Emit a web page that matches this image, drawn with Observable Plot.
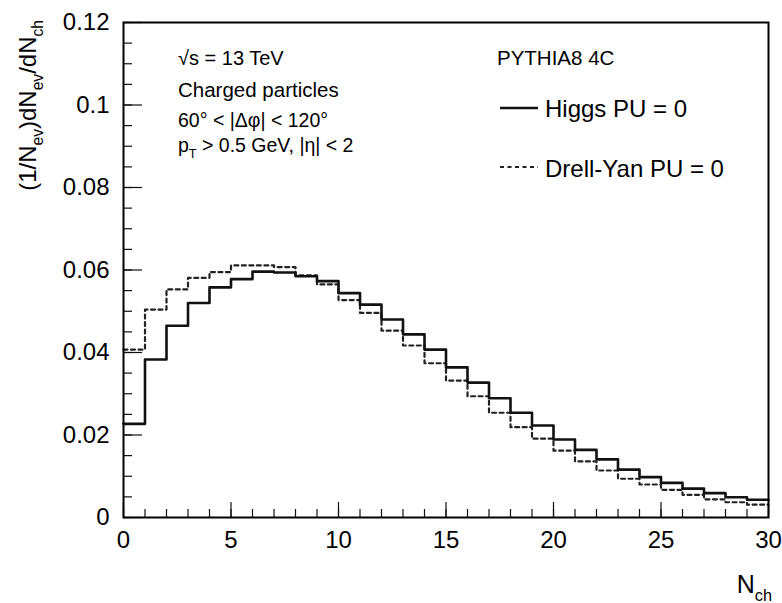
<!DOCTYPE html>
<html><head><meta charset="utf-8">
<script src="https://cdn.jsdelivr.net/npm/d3@7"></script>
<script src="https://cdn.jsdelivr.net/npm/@observablehq/plot@0.6"></script>
<style>
body{margin:0;background:#fff}
#chart{position:relative;width:782px;height:603px}
svg text{font-family:"Liberation Sans",Arial,Helvetica,sans-serif}
</style>
</head><body><div id="chart"></div>
<script>
// bin lower edges of N_ch
const nchBins = [0,1,2,3,4,5,6,7,8,9,10,11,12,13,14,15,16,17,18,19,20,21,22,23,24,25,26,27,28,29];
const nchMax = 30;
const higgs = [0.0227,0.0383,0.0465,0.0520,0.0558,0.0578,0.0596,0.0594,0.0585,0.0573,
               0.0544,0.0516,0.0480,0.0444,0.0407,0.0364,0.0327,0.0289,0.0254,0.0223,
               0.0189,0.0164,0.0141,0.0116,0.0098,0.0084,0.0070,0.0059,0.0049,0.0043];
const drellYan = [0.0407,0.0504,0.0553,0.0581,0.0595,0.0611,0.0611,0.0607,0.0587,0.0565,
                  0.0527,0.0496,0.0453,0.0417,0.0374,0.0332,0.0294,0.0254,0.0219,0.0191,
                  0.0162,0.0136,0.0114,0.0094,0.0080,0.0067,0.0055,0.0044,0.0037,0.0031];
const xMajorTicks = [0,5,10,15,20,25,30];
const xMinorTicks = [0,1,2,3,4,5,6,7,8,9,10,11,12,13,14,15,16,17,18,19,20,21,22,23,24,25,26,27,28,29,30];
const yMajorTicks = [0,0.02,0.04,0.06,0.08,0.1,0.12];
const yMinorTicks = [0,0.005,0.01,0.015,0.02,0.025,0.03,0.035,0.04,0.045,0.05,0.055,0.06,0.065,0.07,0.075,0.08,0.085,0.09,0.095,0.1,0.105,0.11,0.115,0.12];
const seriesNames = ["Higgs PU = 0","Drell-Yan PU = 0"];

function steps(vals){
  const pts = nchBins.map((x,i)=>({x, y: vals[i]}));
  pts.push({x: nchMax, y: vals[vals.length-1]});
  return pts;
}

const W = 782, H = 603, mL = 123, mR = 14, mT = 22, mB = 86;
const innerW = W - mL - mR, innerH = H - mT - mB;

const plot = Plot.plot({
  width: W, height: H,
  marginLeft: mL, marginRight: mR, marginTop: mT, marginBottom: mB,
  style: {fontFamily: '"Liberation Sans", Arial, sans-serif', background: "#fff", overflow: "visible"},
  x: {domain: [0, 30], label: null},
  y: {domain: [0, 0.12], label: null},
  marks: [
    Plot.line(steps(drellYan), {x: "x", y: "y", curve: "step-after", stroke: "#222", strokeWidth: 2.2, strokeDasharray: "4,3.5"}),
    Plot.line(steps(higgs), {x: "x", y: "y", curve: "step-after", stroke: "#111", strokeWidth: 2.6}),
    // inward ticks
    Plot.ruleX(xMinorTicks, {x: d => d, insetTop: innerH - 8, stroke: "#111", strokeWidth: 1.2}),
    Plot.ruleX(xMajorTicks, {x: d => d, insetTop: innerH - 15, stroke: "#111", strokeWidth: 1.2}),
    Plot.ruleY(yMinorTicks, {y: d => d, insetRight: innerW - 9, stroke: "#111", strokeWidth: 1.2}),
    Plot.ruleY(yMajorTicks, {y: d => d, insetRight: innerW - 19, stroke: "#111", strokeWidth: 1.2}),
    Plot.axisX({ticks: xMajorTicks, tickSize: 0, tickPadding: 13, fontSize: 24, tickFormat: d => String(d), label: null, fill: "#000"}),
    Plot.axisY({ticks: yMajorTicks, tickSize: 0, tickPadding: 14, fontSize: 24, tickFormat: d => String(d), label: null, fill: "#000"}),
    Plot.frame({stroke: "#000", strokeWidth: 2})
  ]
});
document.getElementById("chart").appendChild(plot);

const svg = d3.select(plot);
const font = '"Liberation Sans", Arial, sans-serif';

function addText(x, y, parts, size, opts = {}) {
  const t = svg.append("text").attr("x", x).attr("y", y)
    .attr("font-size", size).attr("font-family", font).attr("fill", "#000")
    .attr("text-anchor", opts.anchor || "start");
  if (opts.rotate) t.attr("transform", `rotate(${opts.rotate},${x},${y})`);
  let shifted = false;
  parts.forEach(p => {
    const s = t.append("tspan").text(p.t);
    if (p.sub) {
      s.attr("font-size", size * 0.65).attr("dy", shifted ? 0 : size * 0.3);
      shifted = true;
    } else {
      if (shifted) { s.attr("dy", -size * 0.3); shifted = false; }
    }
  });
  return t;
}

// axis titles
addText(36, 20, [{t:"(1/N"},{t:"ev",sub:true},{t:")dN"},{t:"ev",sub:true},{t:"/dN"},{t:"ch",sub:true}], 24, {anchor: "end", rotate: -90});
addText(772, 593, [{t:"N"},{t:"ch",sub:true}], 25, {anchor: "end"});

// annotations
addText(178, 65, [{t:"\u221As = 13 TeV"}], 20);
addText(178, 97, [{t:"Charged particles"}], 20.5);
addText(178, 127, [{t:"60\u00B0 < |\u0394\u03C6| < 120\u00B0"}], 19.5);
addText(178, 152, [{t:"p"},{t:"T",sub:true},{t:" > 0.5 GeV, |\u03B7| < 2"}], 19.5);
addText(497, 65, [{t:"PYTHIA8 4C"}], 20.5);

// legend
svg.append("line").attr("x1", 500).attr("x2", 538).attr("y1", 108).attr("y2", 108)
  .attr("stroke", "#111").attr("stroke-width", 2.6);
addText(545, 117, [{t: seriesNames[0]}], 24);
svg.append("line").attr("x1", 500).attr("x2", 538).attr("y1", 167).attr("y2", 167)
  .attr("stroke", "#222").attr("stroke-width", 2.2).attr("stroke-dasharray", "4,3.5");
addText(545, 177, [{t: seriesNames[1]}], 24);
</script>
</body></html>
